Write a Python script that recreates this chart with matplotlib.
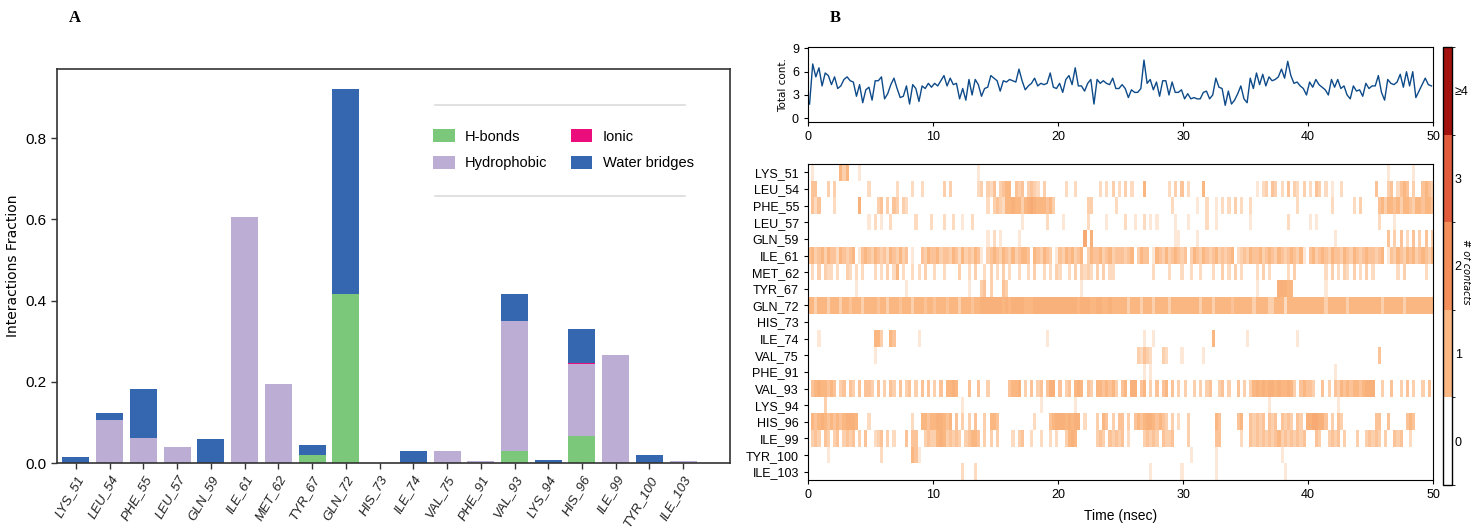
import numpy as np
import matplotlib
matplotlib.use("Agg")
import matplotlib.pyplot as plt
from matplotlib import font_manager
from matplotlib.cm import ScalarMappable
from matplotlib.colors import BoundaryNorm, LinearSegmentedColormap, ListedColormap


# data
# -------------------------------------------------------------------------------------
residues = ["LYS_51", "LEU_54", "PHE_55", "LEU_57", "GLN_59", "ILE_61", "MET_62",
            "TYR_67", "GLN_72", "HIS_73", "ILE_74", "VAL_75", "PHE_91", "VAL_93",
            "LYS_94", "HIS_96", "ILE_99", "TYR_100", "ILE_103"]

# interaction fractions (panel A), stacked bottom -> top
hbonds      = [0, 0, 0, 0, 0, 0, 0, 0.021, 0.417, 0, 0, 0, 0, 0.029, 0, 0.066, 0, 0, 0]
hydrophobic = [0, 0.106, 0.062, 0.039, 0, 0.605, 0.194, 0, 0, 0, 0, 0.029, 0.006, 0.320,
               0, 0.178, 0.267, 0, 0.005]
ionic       = [0, 0, 0, 0, 0, 0, 0, 0, 0, 0, 0, 0, 0, 0, 0, 0.002, 0, 0, 0]
water       = [0.016, 0.017, 0.120, 0, 0.060, 0, 0, 0.024, 0.503, 0, 0.029, 0, 0, 0.067,
               0.008, 0.083, 0, 0.019, 0]

# contact timeline (panel B): one character per 0.25 ns, 0..9 (6 = one full contact)
timeline = [
    # LYS_51
    "02000000006460002000 00000000000000000000 00000000000000200000 00000000000000000000 "
    "00000000000000000000 00000000000000000000 00000000000000000000 00000000000000000000 "
    "00000000000000000000 00000200000002000000",
    # LEU_54
    "05500040400000000003 00000000300003003000 00040400000000340435 04566054504543040000 "
    "00300300000003030403 04030006000000030405 03000060000000000000 00020340540305043040 "
    "30540302003000000000 05000450356504005654",
    # PHE_55
    "05350000300000007000 00450405404300000000 00000000000000000304 54366766467876665640 "
    "00000000044000000030 00000000000000003000 00002003002030304030 03000000000000003000 "
    "00000003000000304000 00564665646654665665",
    # LEU_57
    "00000000000000000002 03020030000000300003 00030030020030000000 00000000200000003000 "
    "02000000030000020000 03002003020200000200 02000003002000000000 02000000000003000000 "
    "20200000000000000000 00300002000000000000",
    # GLN_59
    "00000000000000000000 00000000000000000000 00000000000000000203 02000002000000000000 "
    "00000000807000000000 00000000000000000220 00002000000000000000 00000000000000000000 "
    "00000000200000000000 00000504050305040504",
    # ILE_61
    "56456465536545602565 46545365464502005465 56455465364546520456 54654645665065465402 "
    "54656456046556456455 54560465502654645654 50465465456454560345 46556456546545654620 "
    "56456546554654654565 54560254654656456546",
    # MET_62
    "03040433030043030300 03030403603003030400 30030000400304003040 30403003003040030304 "
    "30030404343040403300 00000000003000030003 00300300030040304030 00030403000003040000 "
    "00000304030430403040 30000000304000000300",
    # TYR_67
    "00000000000000020000 00000000000200000000 00000000000200045040 00540000000000000000 "
    "00000002000000000000 00000000000000000000 00000000000000000000 00020000007776600000 "
    "00000200000000000000 00000000000000000000",
    # GLN_72
    "66466646664665666466 66566466656664666566 56665666466656677777 77676777766677777777 "
    "77777767776677667666 66466646664666646666 66666466646666656666 66466664466636666666 "
    "66666466666646666666 66646666664666666666",
    # HIS_73
    "00000000000000000000 00000000000000000000 00000000000000000000 00000000000000000000 "
    "00000000000000000000 00000000000000000000 00000000000000000000 00000000000000000000 "
    "00000000000000000000 00000000000000000000",
    # ILE_74
    "00020000000000000000 06640065000000020000 00000000000000000000 00000000000000002000 "
    "00000000000000000000 00000002002000000000 00000000060000000000 20000000000000002000 "
    "00000000000000000000 00000000000000000000",
    # VAL_75
    "00000000000000000000 02000000000000000000 00000000000000000000 00000000000000000000 "
    "00000000000000000000 00000435430004300002 00000020000000000000 00000000000000000000 "
    "00000000000000000000 00500000000000000000",
    # PHE_91
    "00000000000000000000 00000000000000000000 00000000000000000000 00000000000000000000 "
    "00000000000000000000 00000002020000000000 00000000000000000000 00000000000000000000 "
    "00000000200000000000 00000000000000000000",
    # VAL_93
    "05676656504505405055 40504054050450405050 40506676000500500400 00005667040504505770 "
    "50450676054066565640 56077056040505605040 40040404500450400504 04676767767667640565 "
    "54005040546565665677 70040050040504004050",
    # LYS_94
    "00000400000000000000 00000000000000000000 00000000020000000000 00000000000000200000 "
    "00000200000000000000 00000000000000000000 00000000000000000000 00000002000000000000 "
    "00000000020000000000 00000000000000000000",
    # HIS_96
    "06567656565677760003 00000000000003006656 67765605040405004066 50000000000030000567 "
    "77676770300040650405 50405656776565404030 04000000006500000560 05454505450545405407 "
    "78877504054000000000 05500500000565000000",
    # ILE_99
    "04540540450454504050 03450403000505500454 46764545404566504040 40000304500300300303 "
    "00467600000045405454 50300004545405445000 04000000005500000030 05454545456454545450 "
    "00540045450400040045 45404005450030000000",
    # TYR_100
    "00000020000000000000 00030000000006520000 00000000000000000000 00000000000000000000 "
    "00000000000000000000 00000000000000000000 00200000002000000000 00000000000200000000 "
    "00000000000000000000 00000000000000000000",
    # ILE_103
    "00000000000000000000 00000000000000000000 00000000030003000000 00000000000000000000 "
    "00000000000000000000 00000000020000000002 00000000002000000000 00000000000020000000 "
    "00000000000000000000 00000000000000000000",
]

sim_time = 50.0   # nsec

contact_labels = ["0", "1", "2", "3", "\u22654"]
contact_colors = ["#ffffff", "#fbb883", "#f48f5a", "#e35b3d", "#a3120f"]


# fonts
# -------------------------------------------------------------------------------------
installed = {f.name for f in font_manager.fontManager.ttflist}
narrow = next((f for f in ["Liberation Sans Narrow", "Liberation Sans", "DejaVu Sans"]
               if f in installed), "DejaVu Sans")
serif = "Liberation Serif" if "Liberation Serif" in installed else "DejaVu Serif"
plt.rcParams["font.family"] = [narrow, "DejaVu Sans"]


fig = plt.figure(figsize=(14.71, 5.31), dpi=100)


# panel A -- stacked interaction fractions
# -------------------------------------------------------------------------------------
axA = fig.add_axes([0.0388, 0.128, 0.4575, 0.742])
x = np.arange(len(residues))
bottom = np.zeros(len(residues))
handles = []
for vals, color, label in [(hbonds, "#7cc87b", "H-bonds"),
                           (hydrophobic, "#bcadd5", "Hydrophobic"),
                           (ionic, "#ec0d7d", "Ionic"),
                           (water, "#3566b0", "Water bridges")]:
    vals = np.asarray(vals)
    h = axA.bar(x, vals, 0.8, bottom=bottom, color=color, label=label, linewidth=0)
    handles.append(h)
    bottom += vals

axA.set_xlim(-0.56, 19.39)
axA.set_ylim(0, 0.97)
axA.set_xticks(x)
axA.set_xticklabels(residues, rotation=60, ha="right", rotation_mode="anchor",
                    fontsize=9.5, color="#222222", style="italic")
axA.set_yticks([0, 0.2, 0.4, 0.6, 0.8])
axA.set_yticklabels(["0.0", "0.2", "0.4", "0.6", "0.8"], fontsize=11)
axA.tick_params(length=4, width=1, color="#333333")
axA.set_ylabel("Interactions Fraction", family="DejaVu Sans", fontsize=10, labelpad=4)
for s in axA.spines.values():
    s.set_linewidth(1.2)
    s.set_color("#333333")

axA.legend(handles=handles, ncol=2, frameon=False, loc="center",
           bbox_to_anchor=(0.752, 0.795), fontsize=10.5, columnspacing=1.6,
           handlelength=1.5, handleheight=1.0, labelspacing=0.8, handletextpad=0.7)
for yy in (0.909, 0.678):
    axA.plot([0.562, 0.933], [yy, yy], transform=axA.transAxes, color="#dcdcdc", lw=1.2)


# panel B -- contacts over time
# -------------------------------------------------------------------------------------
heat = np.array([[int(c) for c in row.replace(" ", "")] for row in timeline]) / 6.0
nbins = heat.shape[1]
t = (np.arange(nbins) + 0.5) * sim_time / nbins
total = heat.sum(axis=0)

axT = fig.add_axes([0.5493, 0.770, 0.4249, 0.141])
axT.plot(t, total, color="#0d4a89", lw=1.0)
axT.set_xlim(0, sim_time)
axT.set_ylim(-0.5, 9.15)
axT.set_yticks([0, 3, 6, 9])
axT.set_xticks(np.arange(0, 51, 10))
axT.tick_params(labelsize=9, length=3)
axT.set_ylabel("Total cont.", family="DejaVu Sans", fontsize=7.5, labelpad=3)

axH = fig.add_axes([0.5493, 0.096, 0.4249, 0.595])
heat_cmap = LinearSegmentedColormap.from_list(
    "contacts", list(zip(np.linspace(0, 1, len(contact_colors)), contact_colors)))
axH.imshow(heat, aspect="auto", cmap=heat_cmap, vmin=0, vmax=4,
           extent=(0, sim_time, len(residues) - 0.5, -0.5), interpolation="nearest")
axH.set_yticks(np.arange(len(residues)))
axH.set_yticklabels(residues, fontsize=9)
axH.set_xticks(np.arange(0, 51, 10))
axH.tick_params(axis="x", labelsize=9, length=3)
axH.tick_params(axis="y", length=3)
axH.set_xlabel("Time (nsec)", fontsize=10, labelpad=6)

cax = fig.add_axes([0.981, 0.0866, 0.0061, 0.825])
sm = ScalarMappable(norm=BoundaryNorm(np.arange(-0.5, 5), len(contact_colors)),
                    cmap=ListedColormap(contact_colors))
cb = fig.colorbar(sm, cax=cax, ticks=np.arange(len(contact_labels)))
cb.ax.set_yticklabels(contact_labels)
cb.ax.tick_params(length=0, labelsize=9, pad=2)
cb.outline.set_linewidth(1.0)
fig.text(1466 / 1471, 1 - 272 / 531, "# of contacts", rotation=270, style="italic",
         ha="center", va="center", fontsize=7, family="DejaVu Sans")

# panel letters
fig.text(75 / 1471, 1 - 18 / 531, "A", family=serif, fontweight="bold", fontsize=12,
         ha="center", va="center")
fig.text(835 / 1471, 1 - 18 / 531, "B", family=serif, fontweight="bold", fontsize=12,
         ha="center", va="center")

fig.savefig("out.png", dpi=100)
